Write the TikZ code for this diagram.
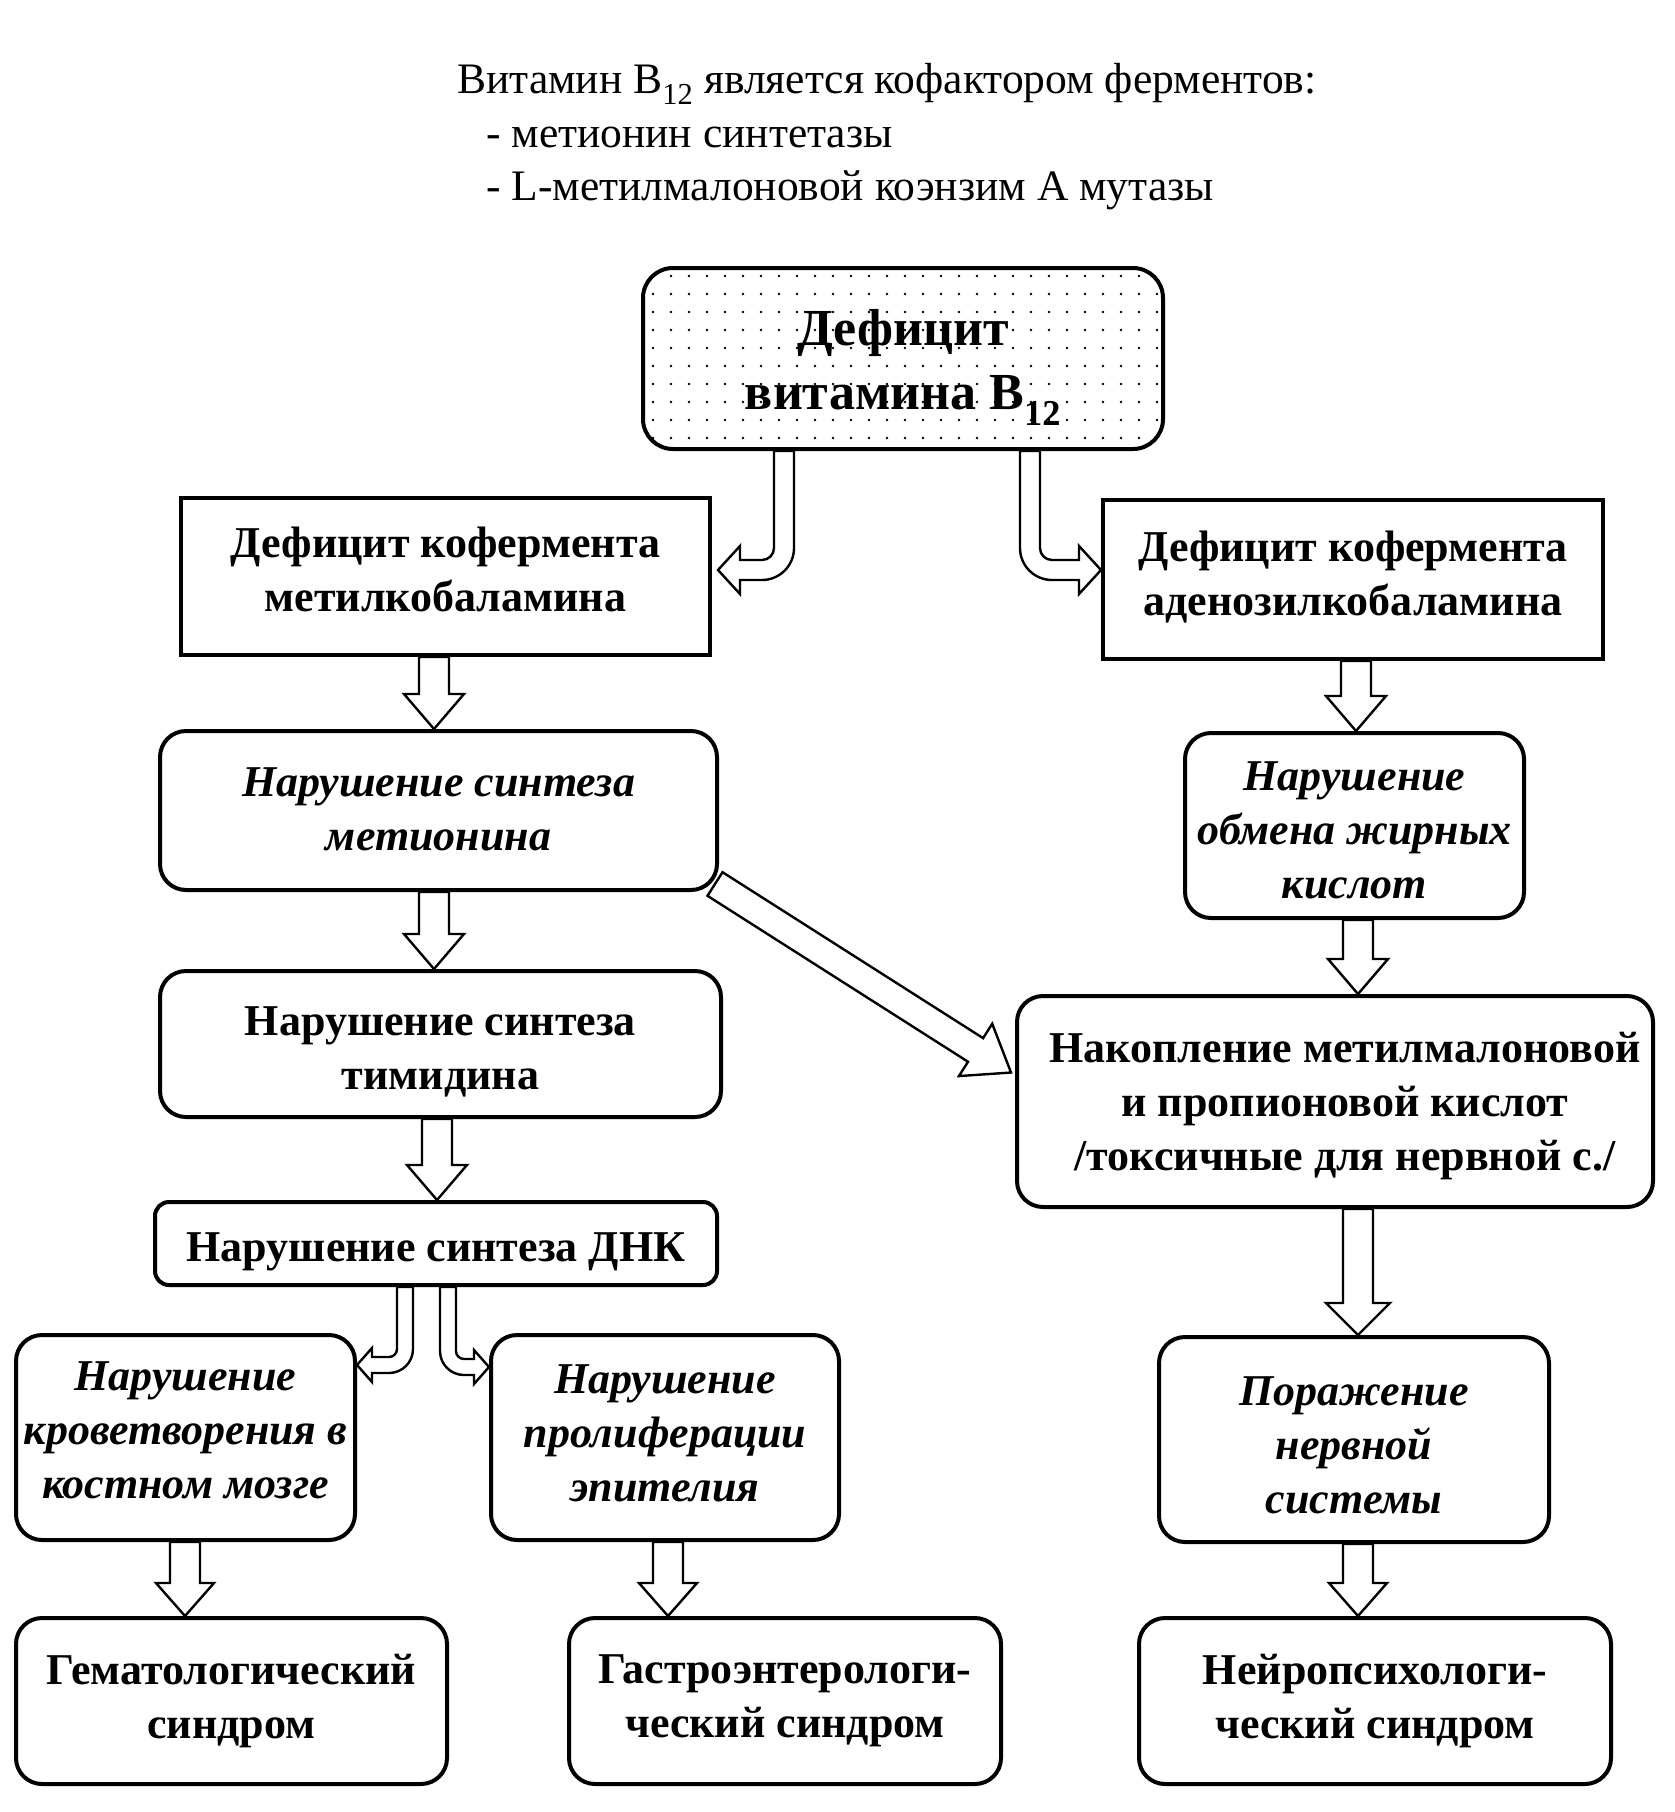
\documentclass[tikz,border=0pt]{standalone}
\usepackage{fontspec}
\setmainfont{Liberation Serif}
\usetikzlibrary{calc}
\pgfdeclarelayer{bg}
\pgfsetlayers{bg,main}

\newcommand\blockarrow[5]{% start, tip, half shaft, half head, head length
 \draw[blockarr] let \p1=(#1), \p2=(#2),
   \n1={veclen(\x2-\x1,\y2-\y1)},
   \n2={(\x2-\x1)/\n1}, \n3={(\y2-\y1)/\n1} in
   ({\x1-(#3)*(\n3)},{\y1+(#3)*(\n2)}) --
   ({\x1+(\n1-#5)*(\n2)-(#3)*(\n3)},{\y1+(\n1-#5)*(\n3)+(#3)*(\n2)}) --
   ({\x1+(\n1-#5)*(\n2)-(#4)*(\n3)},{\y1+(\n1-#5)*(\n3)+(#4)*(\n2)}) --
   (\p2) --
   ({\x1+(\n1-#5)*(\n2)+(#4)*(\n3)},{\y1+(\n1-#5)*(\n3)-(#4)*(\n2)}) --
   ({\x1+(\n1-#5)*(\n2)+(#3)*(\n3)},{\y1+(\n1-#5)*(\n3)-(#3)*(\n2)}) --
   ({\x1+(#3)*(\n3)},{\y1-(#3)*(\n2)}) -- cycle;
}

\newcommand\bentarrow[7]{% start, tip, dir, half shaft, half head, head length, inner radius
 \draw[blockarr] let \p1=(#1), \p2=(#2), \n1={#7+2*#4} in
  ({\x1+(#3)*(#4)},\y1) --
  ({\x1+(#3)*(#4)},{\y2+#4+#7}) .. controls ({\x1+(#3)*(#4)},{\y2+#4+#7-0.5523*#7}) and ({\x1+(#3)*(#4)+(#3)*(#7)*(1-0.5523)},{\y2+#4}) .. ({\x1+(#3)*(#4+#7)},{\y2+#4}) --
  ({\x2-(#3)*(#6)},{\y2+#4}) -- ({\x2-(#3)*(#6)},{\y2+#5}) -- (\p2) --
  ({\x2-(#3)*(#6)},{\y2-#5}) -- ({\x2-(#3)*(#6)},{\y2-#4}) --
  ({\x1+(#3)*(\n1-#4)},{\y2-#4}) .. controls ({\x1+(#3)*(\n1-#4)-(#3)*0.5523*\n1},{\y2-#4}) and ({\x1-(#3)*(#4)},{\y2-#4+\n1*(1-0.5523)}) .. ({\x1-(#3)*(#4)},{\y2-#4+\n1}) --
  ({\x1-(#3)*(#4)},\y1) -- cycle;
}

\tikzset{
 box/.style={draw, line width=4pt, fill=white, inner sep=0pt},
 rbox/.style={box, rounded corners=26pt},
 sz/.style 2 args={minimum width=#1pt, minimum height=#2pt},
 txt/.style={inner sep=0pt, align=center, font=\fontsize{44}{54}\selectfont\bfseries},
 itxt/.style={txt, font=\fontsize{44}{54}\selectfont\bfseries\itshape},
 blockarr/.style={draw, line width=2.4pt, fill=white, line join=miter},
 toptext/.style={anchor=base west, inner sep=0pt, font=\fontsize{43.5}{50}\selectfont},
}

\begin{document}
\begin{tikzpicture}[x=1pt,y=-1pt]
\useasboundingbox (0,0) rectangle (1675,1812);

\node[toptext] (t1) at (457,93) {Витамин B\textsubscript{12} является кофактором ферментов:};
\node[toptext] (t2) at (486,147) {- метионин синтетазы};
\node[toptext] (t3) at (486,200) {- L-метилмалоновой коэнзим А мутазы};

% boxes
\node[rbox, rounded corners=30pt, sz={520}{181},
  path picture={\foreach \i in {0,...,28} {\foreach \j in {0,...,9} {\fill[black] ([shift={(\i*18pt+10pt,-\j*18pt-8pt)}]path picture bounding box.north west) circle (1.4pt);}}}]
  (top) at (903,358.5) {};
\node[box, sz={529}{157}] (L1) at (445.5,576.5) {};
\node[box, sz={500}{159}] (R1) at (1353,579.5) {};
\node[rbox, sz={557}{159}] (L2) at (438.5,810.5) {};
\node[rbox, sz={339}{185}] (R2) at (1354.5,825.5) {};
\node[rbox, sz={561}{146}] (L3) at (440.5,1044) {};
\node[rbox, sz={636}{211}] (R3) at (1335,1101.5) {};
\node[rbox, rounded corners=14pt, sz={562}{83}] (L4) at (436,1243.5) {};
\node[rbox, sz={339}{205}] (LL5) at (185.5,1437.5) {};
\node[rbox, sz={348}{205}] (LM5) at (665,1437.5) {};
\node[rbox, sz={390}{205}] (R5) at (1354,1439.5) {};
\node[rbox, sz={431}{166}] (LL6) at (231.5,1701) {};
\node[rbox, sz={432}{166}] (LM6) at (785,1701) {};
\node[rbox, sz={472}{166}] (R6) at (1375,1701) {};

% texts
\node[txt, font=\fontsize{52}{64}\selectfont\bfseries] (topt) at ([yshift=-9pt]top) {Дефицит\\витамина B\textsubscript{12}};
\node[txt] (L1t) at ([yshift=7pt]L1) {Дефицит кофермента\\метилкобаламина};
\node[txt] (R1t) at ([yshift=2pt]R1) {Дефицит кофермента\\аденозилкобаламина};
\node[itxt] (L2t) at ([yshift=1pt]L2) {Нарушение синтеза\\метионина};
\node[itxt] (R2t) at ([yshift=-5pt]R2) {Нарушение\\обмена жирных\\кислот};
\node[txt] (L3t) at ([yshift=-8pt]L3) {Нарушение синтеза\\тимидина};
\node[txt] (R3t) at ([shift={(10pt,-5pt)}]R3) {Накопление метилмалоновой\\и пропионовой кислот\\/токсичные для нервной с./};
\node[txt] (L4t) at ([yshift=-8pt]L4) {Нарушение синтеза ДНК};
\node[itxt] (LL5t) at ([yshift=7pt]LL5) {Нарушение\\кроветворения в\\костном мозге};
\node[itxt] (LM5t) at ([yshift=4pt]LM5) {Нарушение\\пролиферации\\эпителия};
\node[itxt] (R5t) at ([yshift=-6pt]R5) {Поражение\\нервной\\системы};
\node[txt] (LL6t) at (LL6) {Гематологический\\синдром};
\node[txt] (LM6t) at (LM6) {Гастроэнтерологи-\\ческий синдром};
\node[txt] (R6t) at (R6) {Нейропсихологи-\\ческий синдром};

\begin{pgfonlayer}{bg}
\bentarrow{top.south -| 784,0}{$(L1.east |- 0,570)+(6,0)$}{-1}{10}{24}{22}{12}
\bentarrow{top.south -| 1030,0}{R1.west |- 0,570}{1}{10}{24}{22}{12}
\blockarrow{L1.south -| 434,0}{L2.north -| 434,0}{15}{30}{35}
\blockarrow{R1.south -| 1356,0}{R2.north -| 1356,0}{15}{30}{35}
\blockarrow{L2.south -| 434,0}{L3.north -| 434,0}{15}{30}{35}
\blockarrow{R2.south -| 1358,0}{R3.north -| 1358,0}{15}{30}{35}
\blockarrow{L3.south -| 437,0}{L4.north -| 437,0}{15}{30}{35}
\blockarrow{R3.south -| 1358,0}{R5.north -| 1358,0}{15}{32}{32}
\blockarrow{[shift={(-4,-8)}]L2.south east}{[shift={(-4,-29)}]R3.west}{14}{31}{42}
\bentarrow{L4.south -| 405,0}{LL5.east |- 0,1365}{-1}{8}{17}{15}{8}
\bentarrow{L4.south -| 448,0}{LM5.west |- 0,1367}{1}{8}{17}{15}{8}
\blockarrow{LL5.south -| 185,0}{LL6.north -| 185,0}{15}{29}{33}
\blockarrow{LM5.south -| 668,0}{LM6.north -| 668,0}{15}{29}{33}
\blockarrow{R5.south -| 1358,0}{R6.north -| 1358,0}{15}{29}{33}
\end{pgfonlayer}
\end{tikzpicture}
\end{document}
